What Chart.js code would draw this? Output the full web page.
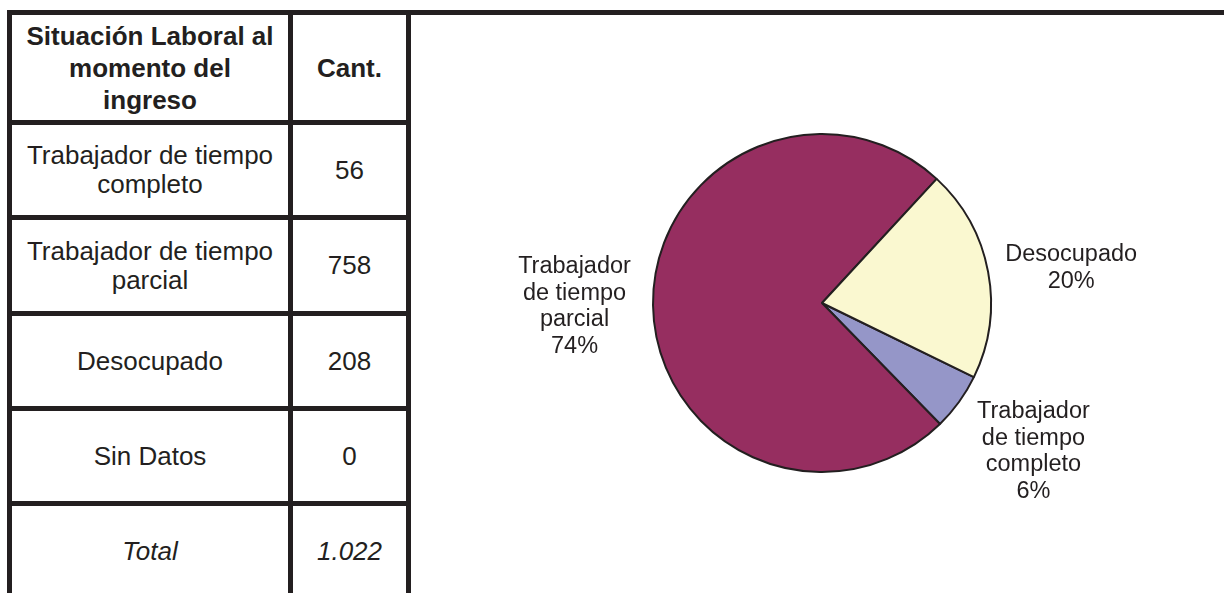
<!DOCTYPE html>
<html>
<head>
<meta charset="utf-8">
<script src="https://cdn.jsdelivr.net/npm/chart.js@4.4.0/dist/chart.umd.min.js"></script>
<style>
  html, body { margin: 0; padding: 0; background: #fff; overflow: hidden; }
  body { width: 1224px; height: 593px; position: relative; font-family: "Liberation Sans", Arial, sans-serif; color: #231f20; }
  .line { position: absolute; background: #231f20; }
  .cell { position: absolute; display: flex; align-items: center; justify-content: center; text-align: center;
          font-size: 26px; line-height: 29px; padding: 0 12px; box-sizing: border-box; }
  .head { font-weight: bold; line-height: 32px; }
  .tot { font-style: italic; }
  #pieChart { position: absolute; left: 420px; top: 15px; }
</style>
</head>
<body>
<div id="tabla"></div>
<canvas id="pieChart" width="804" height="576"></canvas>
<script>
// datos de la tabla / torta
const encabezados = ['Situación Laboral al momento del ingreso', 'Cant.'];
const situaciones = ['Trabajador de tiempo completo', 'Trabajador de tiempo parcial', 'Desocupado', 'Sin Datos'];
const cantidades = [56, 758, 208, 0];
// porcentajes tal como aparecen rotulados en el grafico
const porcentajes = [6, 74, 20, 0];
const colores = ['#9596c8', '#962e60', '#faf8d0', '#ffffff'];

const total = cantidades.reduce((a, b) => a + b, 0);
function miles(n) {
    return String(n).replace(/\B(?=(\d{3})+(?!\d))/g, '.');
}

// --- tabla (lineas y celdas) ---
const tabla = document.getElementById('tabla');
const B = 5; // grosor de borde
const colX = [7, 288, 406];
const rowY = [10, 120, 215, 311, 406, 501, 596];

function addLine(x, y, w, h) {
    const d = document.createElement('div');
    d.className = 'line';
    d.style.left = x + 'px'; d.style.top = y + 'px';
    d.style.width = w + 'px'; d.style.height = h + 'px';
    tabla.appendChild(d);
}
function addCell(col, row, text, cls) {
    const d = document.createElement('div');
    d.className = 'cell ' + (cls || '');
    d.style.left = (colX[col] + B) + 'px';
    d.style.top = (rowY[row] + B) + 'px';
    d.style.width = (colX[col + 1] - colX[col] - B) + 'px';
    d.style.height = (rowY[row + 1] - rowY[row] - B) + 'px';
    d.textContent = text;
    tabla.appendChild(d);
}

addLine(7, 10, 1224 - 7, B);              // linea superior
colX.forEach(x => addLine(x, 10, B, 593)); // verticales
rowY.slice(1, 6).forEach(y => addLine(7, y, colX[2] + B - 7, B));

addCell(0, 0, encabezados[0], 'head');
addCell(1, 0, encabezados[1], 'head');
situaciones.forEach((s, i) => {
    addCell(0, i + 1, s);
    addCell(1, i + 1, miles(cantidades[i]));
});
addCell(0, 5, 'Total', 'tot');
addCell(1, 5, miles(total), 'tot');

// --- torta ---
const idx = cantidades.map((v, i) => i).filter(i => cantidades[i] > 0);

const labelFont = '23.5px "Liberation Sans", Arial, sans-serif';
// pequeño ajuste de posicion de cada rotulo (px), como en el original
const ajusteRotulo = [[6, 0], [6, 0], [0, 12]];

function wrap(ctx, text, maxW) {
    const words = text.split(' ');
    const lines = [];
    let cur = '';
    words.forEach(w => {
        const test = cur ? cur + ' ' + w : w;
        if (cur && ctx.measureText(test).width > maxW) {
            lines.push(cur);
            cur = w;
        } else {
            cur = test;
        }
    });
    if (cur) lines.push(cur);
    return lines;
}

const pieLabels = {
    id: 'pieLabels',
    afterDatasetsDraw(chart) {
        const ctx = chart.ctx;
        const meta = chart.getDatasetMeta(0);
        ctx.save();
        ctx.font = labelFont;
        ctx.fillStyle = '#231f20';
        ctx.textAlign = 'center';
        ctx.textBaseline = 'middle';
        meta.data.forEach((arc, i) => {
            const p = arc.getProps(['x', 'y', 'startAngle', 'endAngle', 'outerRadius'], true);
            const mid = (p.startAngle + p.endAngle) / 2;
            const r = p.outerRadius * 1.5;
            const cx = p.x + Math.cos(mid) * r + ajusteRotulo[i][0];
            const cy = p.y + Math.sin(mid) * r + ajusteRotulo[i][1];
            const lines = wrap(ctx, chart.data.labels[i], 128);
            lines.push(porcentajes[idx[i]] + '%');
            const lh = 26.5;
            const y0 = cy - (lines.length - 1) * lh / 2;
            lines.forEach((t, k) => ctx.fillText(t, cx, y0 + k * lh));
        });
        ctx.restore();
    }
};

new Chart(document.getElementById('pieChart').getContext('2d'), {
    type: 'pie',
    data: {
        labels: idx.map(i => situaciones[i]),
        datasets: [{
            data: idx.map(i => cantidades[i]),
            backgroundColor: idx.map(i => colores[i]),
            borderColor: '#231f20',
            borderWidth: 2,
            radius: 169
        }]
    },
    options: {
        responsive: false,
        animation: false,
        rotation: 116,
        plugins: {
            legend: { display: false },
            tooltip: { enabled: false }
        }
    },
    plugins: [pieLabels]
});
</script>
</body>
</html>
